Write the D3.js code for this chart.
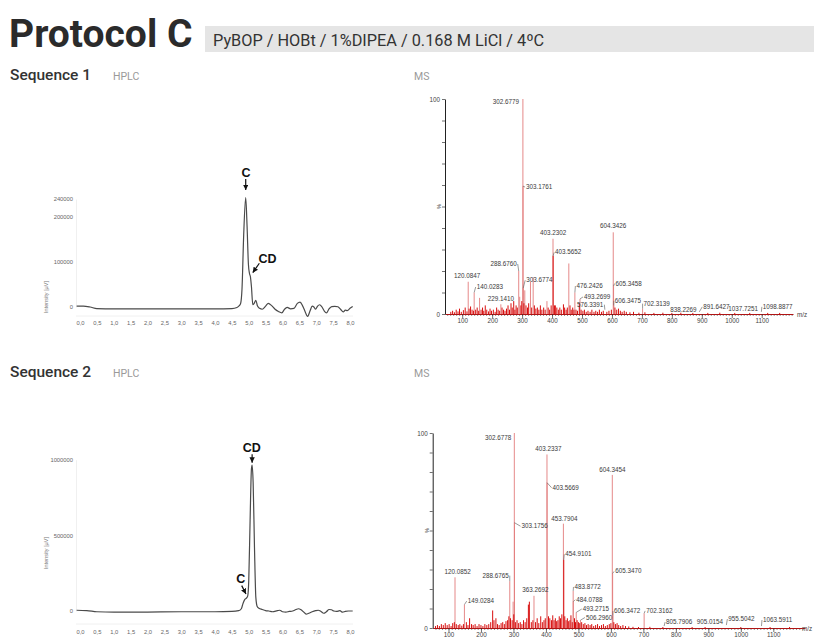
<!DOCTYPE html>
<html>
<head>
<meta charset="utf-8">
<script src="https://cdn.jsdelivr.net/npm/d3@7"></script>
<style>
body{margin:0;background:#fff;}
svg text{font-family:"Liberation Sans",Arial,sans-serif;}
</style>
</head>
<body>
<svg id="chart" width="814" height="637"></svg>
<script>
// ---- header texts
var titleText = "Protocol C";
var subtitleText = "PyBOP / HOBt / 1%DIPEA / 0.168 M LiCl / 4ºC";
var sequenceNames = ["Sequence 1", "Sequence 2"];

// ---- HPLC traces (time in min, intensity in µV)
var hplcTicksX = [0,0.5,1,1.5,2,2.5,3,3.5,4,4.5,5,5.5,6,6.5,7,7.5,8];
var hplc1TicksY = [0,100000,200000,240000];
var hplc2TicksY = [0,500000,1000000];

var hplc1Time = [-0.1,0.1,0.3,0.5,1,2,3,4,4.5,4.65,4.72,4.76,4.8,4.85,4.91,4.95,4.99,5.02,5.05,5.08,5.12,5.16,5.21,5.26,5.32,5.4,5.5,5.58,5.68,5.78,5.88,5.98,6.06,6.14,6.24,6.34,6.44,6.52,6.6,6.68,6.74,6.82,6.88,6.93,6.98,7.04,7.1,7.17,7.24,7.3,7.38,7.46,7.55,7.64,7.72,7.8,7.86,7.92,8,8.08];
var hplc1Signal = [2000,2000,0,-3500,-4000,-4000,-4000,-4000,-3500,-1000,3000,8000,40000,160000,243000,180000,95000,75000,67000,45000,5000,8000,15000,2000,-3000,-5000,2000,8000,3000,-5000,-10000,-13000,-5000,-1000,-4000,-3000,8000,11000,2000,-12000,-21000,-8000,2000,0,-5000,2000,5000,0,-9000,-13000,-4000,1000,1500,500,-5000,-11000,-7000,-8000,-3000,1000];

var hplc2Time = [-0.1,0.2,0.5,1,2,3,4,4.5,4.7,4.78,4.83,4.88,4.93,4.97,5,5.04,5.08,5.1,5.13,5.17,5.21,5.25,5.3,5.4,5.5,5.6,5.7,5.85,5.92,6,6.1,6.2,6.3,6.4,6.47,6.55,6.62,6.7,6.78,6.88,6.98,7.06,7.14,7.22,7.3,7.38,7.45,7.52,7.6,7.7,7.78,7.86,7.95,8.08];
var hplc2Signal = [5000,3000,-5000,-8000,-7000,-5000,-5000,-3000,2000,15000,50000,75000,85000,100000,200000,600000,940000,965000,850000,420000,90000,30000,18000,10000,3000,0,-5000,2000,5000,-5000,-8000,-3000,0,10000,15000,8000,-5000,-20000,-15000,-5000,2000,5000,-3000,-15000,-5000,10000,8000,0,-3000,2000,-8000,-3000,0,0];

// peak annotations: [label, time, intensity]
var hplc1Marks = [["C",4.91,243000],["CD",5.05,67000]];
var hplc2Marks = [["CD",5.1,965000],["C",4.93,85000]];

// ---- MS spectra: [m/z, relative intensity %]
var msTicksMajor = [100,200,300,400,500,600,700,800,900,1000,1100];

var ms1Lines = [[302.68,100],[303.18,59.5],[288.68,20],[303.68,12],[403.23,35],[604.34,38],[605.35,13],
  [120.08,15],[140.03,10],[158,7.5],[229.14,4.5],[309,11],[328,15],[337,17],[456,23.5],[476.24,10],
  [493.27,7],[606.35,4],[702.31,2.5],[383,6],[292,8]];
var ms1Cluster = [[403.57,27],[62,1],[68,1.5],[74,0.8],[80,2],[86,1.2],[91,2.5],[97,1],[104,1.8],[110,3],[116,1.2],
  [123,2.5],[128,3.5],[133,2],[138,1.5],[145,2],[150,3],[155,1.5],[163,2],[168,3],[172,1.5],[177,4],[182,2],
  [188,1.2],[193,2.5],[198,1.5],[204,2],[210,1],[215,3],[220,2],[225,1.5],[233,3],[238,2],[243,1.5],[248,2.5],
  [253,4],[258,2],[263,5],[267,3],[272,6],[276,2],[280,4],[284,3],[296,4],[299,6],[306,5],[313,4],[318,3],
  [322,5],[332,3],[341,4],[346,2.5],[351,3],[356,2],[361,4],[366,2],[372,3],[377,2],[387,3],[392,2],[397,4],
  [408,4],[411,4],[416,3],[421,2],[426,3],[431,2],[438,4.5],[442,3],[447,2],[451,3],[460,4],[464,2],[469,3],
  [473,2],[480,2],[485,1.5],[491,5],[497,2],[503,1.5],[508,2],[514,1],[520,1.5],[527,1],[533,2],[540,1],
  [546,1.5],[552,1],[558,2],[565,1],[571,1.5],[583,1],[590,1.5],[598,2],[610,3],[616,2],[622,2.5],[628,1.5],
  [634,1],[641,1.5],[648,1],[660,0.8],[672,1],[690,0.6],[710,0.8],[740,0.5],[770,0.6],[800,0.5],[830,0.6],
  [870,0.5],[920,0.5],[960,0.6],[1010,0.5],[1060,0.5],[1120,0.5],[1160,0.5]];
// [label, m/z pointed at, % pointed at]
var ms1Labels = [["302.6779",302.68,100],["303.1761",303.18,59.5],["403.2302",403.23,35],["403.5652",403.57,27],
  ["604.3426",604.34,38],["288.6760",288.68,20],["303.6774",303.68,12],["120.0847",120.08,15],["140.0283",140.03,10],
  ["229.1410",229.14,4.5],["476.2426",476.24,10],["493.2699",493.27,7],["576.3391",576.34,2],["605.3458",605.35,13],
  ["606.3475",606.35,4],["702.3139",702.31,2.5],["838.2269",838.23,1],["891.6427",891.64,1],["1037.7251",1037.73,0.5],
  ["1098.8877",1098.89,1]];

var ms2Lines = [[302.68,100],[403.23,89],[403.57,74.5],[604.35,78.5],[453.79,53.5],[303.18,54],[605.35,28],
  [120.09,26],[288.68,24],[363.27,16.5],[483.88,19],[484.08,13.5],[149.03,12],[493.27,8],[506.3,4],[606.35,6.5],
  [702.32,7.5],[299,13.5]];
var ms2Cluster = [[454.91,35],[60,1],[66,1.5],[72,1],[78,2],[84,1.5],[90,2.5],[96,1.5],[102,2],[108,1],[113,2.5],
  [118,3],[124,2],[130,1.5],[135,2],[141,1.2],[146,2],[155,3],[160,1.5],[165,5],[171,2],[176,1.5],[182,2],[188,1],
  [194,2],[200,1.5],[206,1],[212,2],[218,1.5],[224,2],[230,3],[236,9],[240,4],[246,5],[251,2],[256,1.5],[262,2.5],
  [267,3],[272,2],[277,3.5],[282,4],[286,6],[291,5],[296,4],[301,7],[306,3],[311,4],[316,2.5],[321,3],[326,2],
  [331,4],[336,3],[341,5],[346,12],[349,13.5],[355,3],[360,4],[368,3],[373,5],[378,2.5],[384,6],[389,3],[394,4],
  [398,5],[408,6],[412,5],[417,4],[421,6.5],[425,4],[429,5],[433,3.5],[437,4],[441,6],[445,5],[449,7],[458,6],
  [462,4],[466,5],[470,3.5],[474,4],[477,6.5],[481,3],[488,5],[491,3],[496,4],[500,3],[504,2.5],[510,3],[515,2],
  [520,2.5],[525,1.5],[530,2],[536,1.5],[541,2],[547,1],[553,1.5],[559,2],[565,1],[571,1.5],[577,2],[583,1],
  [589,1.5],[595,2],[600,2.5],[609,3],[614,2],[619,2.5],[624,1.5],[630,1],[637,1.5],[645,1],[655,0.8],[668,0.6],
  [685,0.5],[720,0.6],[760,0.5],[850,0.5],[890,0.5],[1000,0.5],[1090,0.5],[1150,0.5]];
var ms2Labels = [["302.6778",302.68,100],["403.2337",403.23,89],["403.5669",403.57,74.5],["604.3454",604.35,78.5],
  ["453.7904",453.79,53.5],["303.1756",303.18,54],["454.9101",454.91,35],["605.3470",605.35,28],["120.0852",120.09,26],
  ["288.6765",288.68,24],["363.2692",363.27,16.5],["483.8772",483.88,19],["484.0788",484.08,13.5],["149.0284",149.03,12],
  ["493.2715",493.27,8],["506.2960",506.3,4],["606.3472",606.35,6.5],["702.3162",702.32,7.5],["805.7906",763.8,1],
  ["905.0154",905.02,1],["955.5042",955.5,1.5],["1063.5911",1063.59,1]];

// ---- layout (pixel offsets of label text from the point it names)
var ms1LabelLayout = [[-4,5,"end",0],[3,3,"start",1],[0,-3.5,"middle",0],[2,-1.5,"start",1],[0,-4,"middle",0],
  [-2,-5,"end",1],[3,-6,"start",1],[-1,-4,"middle",0],[2.5,-3.5,"start",1],[0,-3,"middle",0],[1.5,-4.5,"start",1],
  [4,0,"start",1],[-1.5,-3,"end",1],[2,-0.5,"start",1],[1,-2.5,"start",1],[1,-3,"start",1],[0,0,"middle",0],
  [4,-3,"start",1],[0,-1.5,"middle",0],[1.5,-3,"start",1]];
var ms2LabelLayout = [[-3,6.5,"end",0],[1.5,-3,"middle",0],[5.5,7,"start",1],[0,-2.5,"middle",0],[1,-3,"middle",0],
  [7,5.5,"start",1],[1.5,-3.5,"start",1],[2.5,0,"start",1],[2.5,-3,"middle",0],[-1,-3.5,"end",1],[1.5,-3.5,"middle",0],
  [1.3,-2,"start",1],[3,0,"start",1],[3.3,-1.5,"start",1],[6.5,-1.4,"start",1],[5.5,-0.7,"start",1],[1,-2.3,"start",1],
  [2,-0.5,"start",1],[2,-2,"start",1],[0,-2,"middle",0],[2,-4,"start",1],[1.5,-4,"start",1]];
// arrow start / end and text offsets for the HPLC marks
var hplc1MarkLayout = [[0,-18.6,0,-7.6,0.3,-20.6],[8.9,-13.6,2.3,-4.2,17.1,-13.9]];
var hplc2MarkLayout = [[0,-10.7,0,-2.3,-0.4,-13],[-4.7,-12.5,-0.4,-4.2,-5.7,-15.2]];

var svg = d3.select("#chart");

svg.append("defs").append("marker")
  .attr("id","arrowhead").attr("viewBox","0 0 10 10")
  .attr("refX",10).attr("refY",5)
  .attr("markerWidth",4.5).attr("markerHeight",4.5)
  .attr("orient","auto")
  .append("path").attr("d","M0,0L10,5L0,10z").attr("fill","#111");

// header
svg.append("text").attr("x",9).attr("y",47).text(titleText)
  .style("font-family","Roboto").style("font-weight",700).style("font-size","39px").attr("fill","#2b2b2b");
svg.append("rect").attr("x",205).attr("y",26).attr("width",609).attr("height",26).attr("fill","#e5e5e5");
svg.append("text").attr("x",213).attr("y",45.5).text(subtitleText)
  .style("font-family","Roboto").style("font-size","16.3px").attr("fill","#333");

function sectionHeader(name, yBase){
  svg.append("text").attr("x",10).attr("y",yBase).text(name)
    .style("font-family","Roboto").style("font-weight",500).style("font-size","15.5px").attr("fill","#333");
  svg.append("text").attr("x",113).attr("y",yBase).text("HPLC")
    .style("font-family","Roboto").style("font-size","10.5px").attr("fill","#9a9a9a");
  svg.append("text").attr("x",414).attr("y",yBase).text("MS")
    .style("font-family","Roboto").style("font-size","10.5px").attr("fill","#9a9a9a");
}
sectionHeader(sequenceNames[0],80);
sectionHeader(sequenceNames[1],377);

var commaFmt = function(d){ return d3.format(".1f")(d).replace(".",","); };

function drawHPLC(cfg){
  var x = d3.scaleLinear().domain([0,8]).range([80,350]);
  var y = d3.scaleLinear().domain(cfg.yDomain).range(cfg.yRange);
  var g = svg.append("g");

  var ya = g.append("g").attr("transform","translate(76,0)")
    .call(d3.axisLeft(y).tickValues(cfg.yTicks).tickSize(0).tickPadding(3).tickFormat(d3.format("d")));
  ya.select(".domain").attr("stroke","#f0f0f0");
  ya.selectAll("text").style("font-size","5.8px").attr("fill","#666");

  var xa = g.append("g").attr("transform","translate(0,"+cfg.bottom+")")
    .call(d3.axisBottom(x).tickValues(hplcTicksX).tickSize(0).tickPadding(cfg.pad).tickFormat(commaFmt));
  xa.select(".domain").attr("stroke","#f0f0f0").attr("d","M76,0H353");
  xa.selectAll("text").style("font-size","5.8px").attr("fill","#666");

  g.append("text").attr("transform","translate(48,"+cfg.labelY+") rotate(-90)")
    .attr("text-anchor","middle").text("Intensity [µV]")
    .style("font-size","5.5px").attr("fill","#777");

  var pts = cfg.time.map(function(t,i){ return [t, cfg.signal[i]]; });
  var line = d3.line().x(function(d){ return x(d[0]); }).y(function(d){ return y(d[1]); }).curve(d3.curveMonotoneX);
  g.append("path").datum(pts).attr("d",line).attr("fill","none").attr("stroke","#4a4a4a").attr("stroke-width",1.2);

  cfg.marks.forEach(function(m,i){
    var L = cfg.layout[i];
    var px = x(m[1]), py = y(m[2]);
    g.append("line").attr("x1",px+L[0]).attr("y1",py+L[1]).attr("x2",px+L[2]).attr("y2",py+L[3])
      .attr("stroke","#111").attr("stroke-width",1.2).attr("marker-end","url(#arrowhead)");
    g.append("text").attr("x",px+L[4]).attr("y",py+L[5]).attr("text-anchor","middle").text(m[0])
      .style("font-weight","bold").style("font-size","12.5px").attr("fill","#111");
  });
}

function drawMS(cfg){
  var x = d3.scaleLinear().domain(cfg.mzDomain).range(cfg.xRange);
  var y = d3.scaleLinear().domain([0,100]).range(cfg.yRange);
  var g = svg.append("g");

  g.append("g").selectAll("line").data(cfg.lines).enter().append("line")
    .attr("x1",function(d){ return x(d[0]); }).attr("x2",function(d){ return x(d[0]); })
    .attr("y1",y(0)).attr("y2",function(d){ return y(d[1]); })
    .attr("stroke","#e27c7c").attr("stroke-width",0.9);
  g.append("g").selectAll("line").data(cfg.cluster).enter().append("line")
    .attr("x1",function(d){ return x(d[0]); }).attr("x2",function(d){ return x(d[0]); })
    .attr("y1",y(0)).attr("y2",function(d){ return y(d[1]); })
    .attr("stroke","#d80e0e").attr("stroke-width",1);

  var minor = d3.range(50,1201,10).filter(function(v){ return v>=cfg.mzDomain[0] && v<=cfg.mzDomain[1]; });
  var mi = g.append("g").attr("transform","translate(0,"+y(0)+")")
    .call(d3.axisBottom(x).tickValues(minor).tickSize(2).tickFormat(""));
  mi.select(".domain").remove();
  mi.selectAll("line").attr("stroke","#444").attr("stroke-width",0.6);

  var ma = g.append("g").attr("transform","translate(0,"+y(0)+")")
    .call(d3.axisBottom(x).tickValues(msTicksMajor).tickSize(4).tickSizeOuter(0).tickPadding(1).tickFormat(d3.format("d")));
  ma.select(".domain").attr("stroke","#b01414").attr("stroke-width",1.2);
  ma.selectAll("line").attr("stroke","#333").attr("stroke-width",0.7);
  ma.selectAll("text").style("font-size","6.3px").attr("fill","#444");

  var ya = g.append("g").attr("transform","translate("+cfg.xRange[0]+",0)")
    .call(d3.axisLeft(y).tickValues(d3.range(0,101,10)).tickSize(3).tickSizeOuter(0).tickPadding(2)
      .tickFormat(function(d){ return (d===0||d===100) ? d : ""; }));
  ya.select(".domain").attr("stroke","#222").attr("stroke-width",1);
  ya.selectAll("line").attr("stroke","#333").attr("stroke-width",0.7);
  ya.selectAll("text").style("font-size","6.3px").attr("fill","#444");
  g.append("text").attr("transform","translate("+(cfg.xRange[0]-6)+","+y(50)+") rotate(-90)")
    .attr("text-anchor","middle").attr("dy","0.35em").text("%").style("font-size","5.5px").attr("fill","#444");

  g.append("text").attr("x",cfg.mzLabelX).attr("y",y(0)+2.5).text("m/z").style("font-size","6.3px").attr("fill","#444");

  cfg.labels.forEach(function(l,i){
    var L = cfg.layout[i];
    var px = x(l[1]), py = y(l[2]);
    var tx = px+L[0], ty = py+L[1];
    if(L[3]){
      var lx = L[2]==="start" ? tx-1 : (L[2]==="end" ? tx+1 : tx);
      g.append("line").attr("x1",px).attr("y1",py).attr("x2",lx).attr("y2",ty-2)
        .attr("stroke","#555").attr("stroke-width",0.6);
    }
    g.append("text").attr("x",tx).attr("y",ty).attr("text-anchor",L[2]).text(l[0])
      .style("font-size","6.3px").attr("fill","#3a3a3a");
  });
}

drawHPLC({yDomain:[0,240000], yRange:[307,199], yTicks:hplc1TicksY, bottom:316, pad:5, labelY:297,
  time:hplc1Time, signal:hplc1Signal, marks:hplc1Marks, layout:hplc1MarkLayout});
drawHPLC({yDomain:[0,1000000], yRange:[611,459.7], yTicks:hplc2TicksY, bottom:624, pad:5.5, labelY:553,
  time:hplc2Time, signal:hplc2Signal, marks:hplc2Marks, layout:hplc2MarkLayout});

drawMS({mzDomain:[42.6,1204.5], xRange:[445,793], yRange:[314,99], mzLabelX:797,
  lines:ms1Lines, cluster:ms1Cluster, labels:ms1Labels, layout:ms1LabelLayout});
drawMS({mzDomain:[51.4,1197.6], xRange:[432.7,805], yRange:[628,433], mzLabelX:802,
  lines:ms2Lines, cluster:ms2Cluster, labels:ms2Labels, layout:ms2LabelLayout});
</script>
</body>
</html>
